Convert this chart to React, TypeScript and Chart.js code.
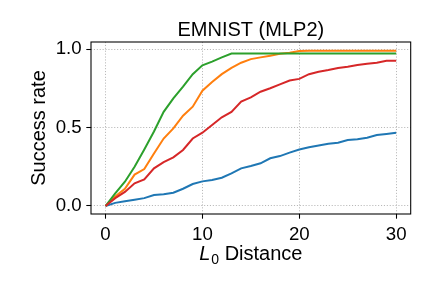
import React, { useEffect, useRef } from "react";
import { Chart, registerables } from "chart.js";

Chart.register(...registerables);

const distances = [0, 1, 2, 3, 4, 5, 6, 7, 8, 9, 10, 11, 12, 13, 14, 15, 16, 17, 18, 19, 20, 21, 22, 23, 24, 25, 26, 27, 28, 29, 30];

const seriesBlue = [0, 0.02, 0.03, 0.04, 0.05, 0.07, 0.075, 0.085, 0.11, 0.14, 0.157, 0.166, 0.18, 0.208, 0.24, 0.255, 0.272, 0.304, 0.318, 0.34, 0.36, 0.374, 0.386, 0.396, 0.403, 0.42, 0.425, 0.435, 0.452, 0.459, 0.467];
const seriesOrange = [0, 0.06, 0.11, 0.2, 0.235, 0.335, 0.43, 0.495, 0.575, 0.633, 0.735, 0.79, 0.84, 0.88, 0.913, 0.936, 0.947, 0.958, 0.97, 0.977, 0.987, 0.99, 0.99, 0.99, 0.99, 0.99, 0.99, 0.99, 0.99, 0.99, 0.99];
const seriesGreen = [0, 0.08, 0.155, 0.25, 0.36, 0.475, 0.6, 0.686, 0.76, 0.84, 0.896, 0.92, 0.947, 0.972, 0.972, 0.972, 0.972, 0.972, 0.972, 0.972, 0.972, 0.972, 0.972, 0.972, 0.972, 0.972, 0.972, 0.972, 0.972, 0.972, 0.972];
const seriesRed = [0, 0.05, 0.09, 0.145, 0.17, 0.24, 0.28, 0.31, 0.357, 0.43, 0.467, 0.516, 0.565, 0.6, 0.665, 0.692, 0.728, 0.75, 0.775, 0.8, 0.81, 0.84, 0.855, 0.866, 0.879, 0.887, 0.898, 0.906, 0.913, 0.926, 0.926];

const xTicks = [0, 10, 20, 30];
const yTicks = [0, 0.5, 1.0];

const FONT = "'Liberation Sans', Arial, sans-serif";

const toPoints = (ys: number[]) => ys.map((y, i) => ({ x: distances[i], y }));

const framePlugin = {
  id: "frame",
  afterDraw(chart: any) {
    const { ctx, chartArea } = chart;
    ctx.save();
    ctx.strokeStyle = "#000";
    ctx.lineWidth = 1.07;
    ctx.strokeRect(chartArea.left, chartArea.top, chartArea.right - chartArea.left, chartArea.bottom - chartArea.top);
    // x-axis title: italic L with subscript 0, then " Distance"
    const cx = (chartArea.left + chartArea.right) / 2;
    const baseY = chartArea.bottom + 46;
    const big = 20;
    const small = 14;
    ctx.fillStyle = "#000";
    ctx.textBaseline = "alphabetic";
    ctx.textAlign = "left";
    ctx.font = `italic ${big}px ${FONT}`;
    const wL = ctx.measureText("L").width;
    ctx.font = `${small}px ${FONT}`;
    const w0 = ctx.measureText("0").width;
    ctx.font = `${big}px ${FONT}`;
    const wD = ctx.measureText(" Distance").width;
    const total = wL + w0 + wD + 1;
    let x = cx - total / 2;
    ctx.font = `italic ${big}px ${FONT}`;
    ctx.fillText("L", x, baseY);
    x += wL + 1;
    ctx.font = `${small}px ${FONT}`;
    ctx.fillText("0", x, baseY + 4);
    x += w0;
    ctx.font = `${big}px ${FONT}`;
    ctx.fillText(" Distance", x, baseY);
    ctx.restore();
  },
};

export default function App() {
  const ref = useRef<HTMLCanvasElement>(null);
  useEffect(() => {
    if (!ref.current) return;
    const grid = {
      color: "#b0b0b0",
      lineWidth: 0.9,
      tickColor: "#000",
      tickWidth: 1.07,
      tickLength: 4.7,
      tickBorderDash: [],
    };
    const border = { display: false, dash: [1.1, 1.8] };
    const mk = (color: string, data: number[], order: number, label: string) => ({
      label,
      data: toPoints(data),
      borderColor: color,
      backgroundColor: color,
      borderWidth: 2,
      pointRadius: 0,
      tension: 0,
      fill: false,
      order,
    });
    const chart = new Chart(ref.current, {
      type: "line",
      data: {
        datasets: [
          mk("#1f77b4", seriesBlue, 4, "series 1"),
          mk("#ff7f0e", seriesOrange, 3, "series 2"),
          mk("#2ca02c", seriesGreen, 2, "series 3"),
          mk("#d62728", seriesRed, 1, "series 4"),
        ],
      },
      options: {
        responsive: false,
        animation: false,
        devicePixelRatio: 1,
        layout: { padding: { left: 0, right: 21.3, top: 0, bottom: 0 } },
        plugins: {
          legend: { display: false },
          tooltip: { enabled: false },
          title: {
            display: true,
            fullSize: false,
            text: "EMNIST (MLP2)",
            color: "#000",
            font: { family: FONT, size: 20, weight: "normal", lineHeight: 1.2 },
            padding: { top: 18, bottom: 0 },
          },
        },
        scales: {
          x: {
            type: "linear",
            min: -1.5,
            max: 31.5,
            grid,
            border,
            afterBuildTicks: (s: any) => {
              s.ticks = xTicks.map((v) => ({ value: v }));
            },
            afterFit: (s: any) => {
              s.height = 74;
            },
            ticks: {
              color: "#000",
              font: { family: FONT, size: 18.67 },
              padding: 4.7,
              maxRotation: 0,
              autoSkip: false,
              callback: (v: any) => String(v),
            },
          },
          y: {
            type: "linear",
            min: -0.051,
            max: 1.045,
            grid,
            border,
            afterBuildTicks: (s: any) => {
              s.ticks = yTicks.map((v) => ({ value: v }));
            },
            afterFit: (s: any) => {
              s.width = 91;
            },
            ticks: {
              color: "#000",
              font: { family: FONT, size: 18.67 },
              padding: 4.7,
              autoSkip: false,
              callback: (v: any) => Number(v).toFixed(1),
            },
            title: {
              display: true,
              text: "Success rate",
              color: "#000",
              font: { family: FONT, size: 20, lineHeight: 1.2 },
              padding: { top: 27, bottom: 0 },
            },
          },
        },
      },
      plugins: [framePlugin],
    } as any);
    return () => chart.destroy();
  }, []);
  return (
    <div style={{ position: "absolute", left: 0, top: 0, width: 432, height: 288, background: "#fff" }}>
      <canvas ref={ref} width={432} height={288} />
    </div>
  );
}
